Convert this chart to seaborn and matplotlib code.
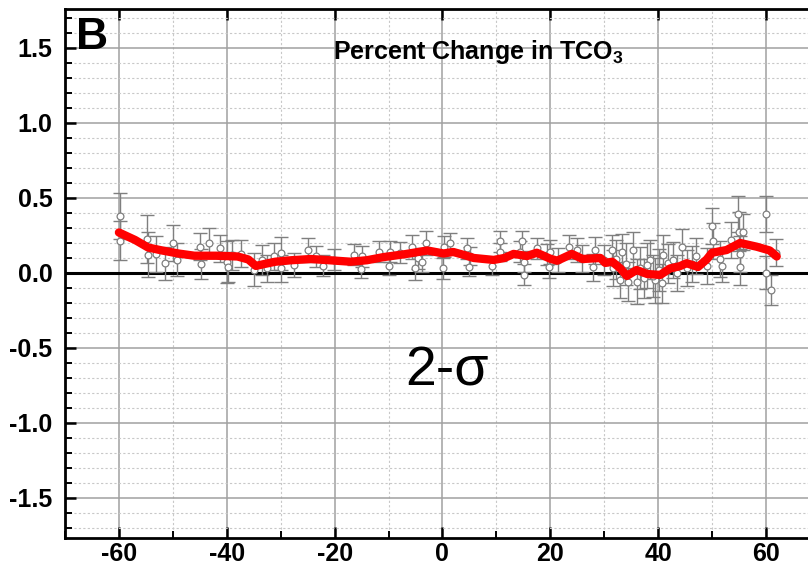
import matplotlib
matplotlib.use("Agg")
import matplotlib.pyplot as plt
from matplotlib.ticker import MultipleLocator
import numpy as np
import pandas as pd
import seaborn as sns

# Smoothed percent change (red curve)
fit_lat = [-60, -57, -54.6, -52, -49, -46, -42, -38, -36, -34.6, -33, -31, -28, -24.4,
           -21, -17, -14, -10.9, -7, -2.8, 0.2, 2, 4, 5.8, 9.5, 11.5, 13.2, 15.7, 17.5,
           20, 21.3, 24, 26, 29.3, 30.2, 31.5, 33, 34.2, 36, 38, 40.4, 42.2, 44, 45.3,
           47.4, 49, 50, 52.7, 55.2, 58.3, 60.7, 62]
fit_val = [0.27, 0.22, 0.17, 0.15, 0.13, 0.115, 0.115, 0.11, 0.09, 0.047, 0.06, 0.075,
           0.085, 0.093, 0.085, 0.075, 0.085, 0.106, 0.125, 0.15, 0.13, 0.14, 0.12, 0.10,
           0.087, 0.10, 0.127, 0.113, 0.135, 0.095, 0.082, 0.127, 0.093, 0.10, 0.067,
           0.075, 0.03, -0.02, 0.02, -0.007, -0.013, 0.03, 0.045, 0.065, 0.04, 0.09,
           0.135, 0.153, 0.20, 0.175, 0.15, 0.11]

# Individual station estimates with 2-sigma uncertainty
obs_lat = [-59.8, -59.8, -54.8, -54.6, -53.1, -51.5, -49.9, -49.3, -45.0, -44.8, -43.3,
           -41.2, -39.9, -39.8, -39.0, -37.4, -34.9, -33.4, -32.5, -31.2, -30.0, -29.9,
           -27.5, -25.0, -23.5, -22.1, -20.1, -16.4, -15.1, -14.9, -11.8, -9.9, -9.7,
           -7.8, -5.6, -5.0, -4.6, -3.8, -3.0, 0.1, 0.25, 1.4, 4.6, 5.2, 4.9, 9.2, 10.6,
           10.7, 14.4, 14.8, 15.1, 15.2, 17.5, 19.4, 19.7, 20.0, 21.5, 23.4, 24.9, 25.9,
           28.0, 28.3, 29.9, 31.4, 31.7, 33.3, 33.0, 34.5, 35.4, 36.7, 37.3, 38.5, 39.4,
           40.1, 41.0, 41.9, 42.8, 44.4, 45.3, 47.1, 49.0, 50.0, 50.2, 51.5, 51.9, 53.6,
           54.9, 55.0, 55.8, 55.1, 55.1, 60.0, 60.1, 61.0, 61.9,
           32.2, 34.0, 36.0, 38.0, 39.0, 40.8, 43.5, 46.2]
obs_val = [0.38, 0.215, 0.225, 0.12, 0.127, 0.065, 0.20, 0.087, 0.175, 0.06, 0.20,
           0.165, 0.075, 0.038, 0.12, 0.127, 0.02, 0.087, 0.03, 0.11, 0.13, 0.03,
           0.053, 0.153, 0.113, 0.047, 0.087, 0.12, 0.025, 0.11, 0.142, 0.047, 0.142,
           0.135, 0.175, 0.03, 0.098, 0.075, 0.198, 0.03, 0.175, 0.198, 0.165, 0.113,
           0.042, 0.047, 0.21, 0.142, 0.142, 0.21, 0.075, -0.013, 0.165, 0.12, 0.038,
           0.142, 0.087, 0.175, 0.153, 0.098, 0.038, 0.153, 0.087, 0.153, 0.03, 0.142,
           -0.047, -0.058, 0.153, 0.03, -0.035, 0.087, -0.047, 0.02, 0.12, 0.065, 0.087,
           0.175, 0.03, 0.11, 0.047, 0.315, 0.21, 0.09, 0.047, 0.22, 0.39, 0.275, 0.27,
           0.127, 0.038, 0.393, 0.002, -0.113, 0.135,
           0.09, 0.06, -0.06, 0.05, -0.02, -0.07, 0.0, 0.06]
obs_err = [0.155, 0.13, 0.16, 0.15, 0.12, 0.11, 0.12, 0.11, 0.09, 0.10, 0.10, 0.09,
           0.14, 0.10, 0.10, 0.09, 0.11, 0.10, 0.09, 0.09, 0.11, 0.09, 0.08, 0.08,
           0.07, 0.07, 0.07, 0.07, 0.06, 0.07, 0.07, 0.06, 0.07, 0.07, 0.08, 0.08,
           0.07, 0.07, 0.08, 0.07, 0.07, 0.07, 0.07, 0.06, 0.06, 0.06, 0.07, 0.06,
           0.07, 0.07, 0.07, 0.07, 0.07, 0.07, 0.07, 0.08, 0.08, 0.08, 0.08, 0.09,
           0.09, 0.09, 0.10, 0.10, 0.12, 0.12, 0.12, 0.13, 0.12, 0.14, 0.13, 0.13,
           0.15, 0.14, 0.13, 0.13, 0.12, 0.12, 0.12, 0.12, 0.12, 0.12, 0.12, 0.12,
           0.11, 0.12, 0.12, 0.13, 0.12, 0.12, 0.12, 0.12, 0.11, 0.10, 0.09,
           0.13, 0.14, 0.15, 0.15, 0.14, 0.13, 0.12, 0.12]

x_ticks = [-60, -40, -20, 0, 20, 40, 60]
y_ticks = [-1.5, -1.0, -0.5, 0.0, 0.5, 1.0, 1.5]

sns.set_theme(style="white")
plt.rcParams["font.family"] = ["Liberation Sans", "DejaVu Sans"]
plt.rcParams["mathtext.fontset"] = "custom"
plt.rcParams["mathtext.bf"] = "Liberation Sans:bold"
plt.rcParams["mathtext.rm"] = "Liberation Sans"

obs = pd.DataFrame({"lat": obs_lat, "val": obs_val, "err": obs_err})
fit = pd.DataFrame({"lat": fit_lat, "val": fit_val})

fig = plt.figure(figsize=(8.08, 5.71), dpi=100)
ax = fig.add_axes([65 / 808, 33 / 571, 743 / 808, 529 / 571])

ax.set_xlim(-70, 67.8)
ax.set_ylim(-1.767, 1.76)

# grid: solid major, dotted minor
ax.xaxis.set_major_locator(MultipleLocator(20))
ax.xaxis.set_minor_locator(MultipleLocator(10))
ax.yaxis.set_major_locator(MultipleLocator(0.5))
ax.yaxis.set_minor_locator(MultipleLocator(0.1))
ax.grid(which="major", color="#a0a0a0", linewidth=1.1, linestyle="-", zorder=0)
ax.grid(which="minor", color="#c8c8c8", linewidth=0.8, linestyle=(0, (2, 2)), zorder=0)
ax.set_axisbelow(True)

ax.axhline(0, color="black", linewidth=2.2, zorder=2)

ax.errorbar(obs["lat"], obs["val"], yerr=obs["err"], fmt="none", ecolor="#7f7f7f",
            elinewidth=1.0, capsize=5, capthick=1.0, zorder=3)
sns.scatterplot(data=obs, x="lat", y="val", ax=ax, marker="o", s=24,
                facecolor="white", edgecolor="#7f7f7f", linewidth=0.9, zorder=4)
sns.lineplot(data=fit, x="lat", y="val", ax=ax, color="#ff0000", linewidth=6,
             zorder=5, sort=True)

ax.set_xticks(x_ticks)
ax.set_yticks(y_ticks)
ax.set_xticklabels([f"{t:d}" for t in x_ticks])
ax.set_yticklabels([f"{t:.1f}" for t in y_ticks])
ax.set_xlabel("")
ax.set_ylabel("")

for lab in ax.get_xticklabels() + ax.get_yticklabels():
    lab.set_fontweight("bold")
    lab.set_fontsize(18)
    lab.set_color("black")

ax.tick_params(which="major", direction="in", length=8, width=1.8, color="black",
               top=True, bottom=True, left=True, right=False)
ax.tick_params(which="minor", direction="in", length=5, width=1.4, color="black",
               top=False, bottom=True, left=True, right=False)
ax.tick_params(axis="y", which="major", pad=9)
ax.tick_params(axis="x", which="major", pad=3)

for side in ("left", "bottom", "top"):
    ax.spines[side].set_visible(True)
    ax.spines[side].set_color("black")
    ax.spines[side].set_linewidth(2.0)
ax.spines["right"].set_visible(False)

ax.text(-68, 1.49, "B", fontsize=32, fontweight="bold", ha="left", va="baseline",
        color="black", zorder=6)
ax.text(6.6, 1.427, r"Percent Change in TCO$_\mathbf{3}$", fontsize=18, fontweight="bold",
        ha="center", va="baseline", color="black", zorder=6)
ax.text(0.8, -0.747, "2-σ", fontsize=40, ha="center", va="baseline", color="black",
        zorder=6)

fig.savefig("out.png", dpi=100)
